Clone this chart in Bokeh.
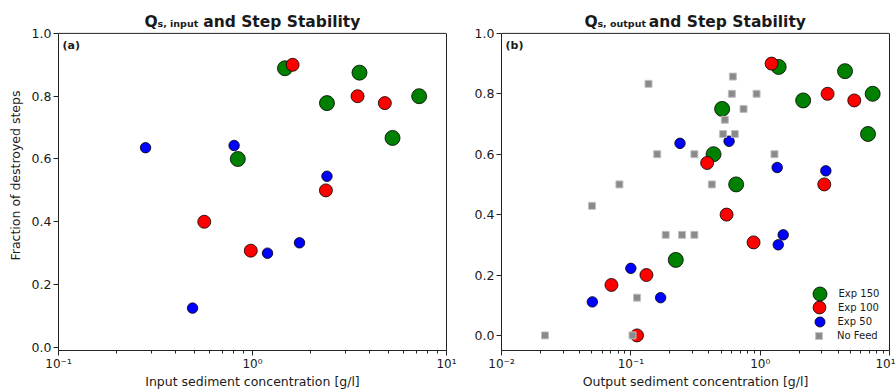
from bokeh.plotting import figure
from bokeh.layouts import row
from bokeh.models import (FixedTicker, PrintfTickFormatter, CustomJSTickFormatter,
                          Label, Legend, LegendItem, LinearAxis, Span)
from bokeh.embed import file_html
from bokeh.resources import INLINE

# ---------------- data ----------------
# panel (a): input sediment concentration [g/l] vs fraction of destroyed steps
in_exp150_x = [0.84, 1.47, 2.42, 3.56, 5.27, 7.23]
in_exp150_y = [0.600, 0.889, 0.778, 0.875, 0.667, 0.800]
in_exp100_x = [0.564, 0.98, 1.61, 2.39, 3.48, 4.81]
in_exp100_y = [0.400, 0.308, 0.900, 0.500, 0.800, 0.778]
in_exp50_x = [0.281, 0.491, 0.804, 1.195, 1.747, 2.42]
in_exp50_y = [0.636, 0.125, 0.643, 0.300, 0.333, 0.545]

# panel (b): output sediment concentration [g/l] vs fraction of destroyed steps
out_exp150_x = [0.2226, 0.436, 0.508, 0.652, 1.39, 2.15, 4.53, 6.82, 7.41]
out_exp150_y = [0.250, 0.600, 0.750, 0.500, 0.889, 0.778, 0.875, 0.667, 0.800]
out_exp100_x = [0.0708, 0.1116, 0.132, 0.389, 0.55, 0.889, 1.225, 3.13, 3.32, 5.34]
out_exp100_y = [0.167, 0.000, 0.200, 0.571, 0.400, 0.308, 0.900, 0.500, 0.800, 0.778]
out_exp50_x = [0.0504, 0.100, 0.170, 0.240, 0.575, 1.354, 1.38, 1.507, 3.22]
out_exp50_y = [0.111, 0.222, 0.125, 0.636, 0.643, 0.556, 0.300, 0.333, 0.545]
nofeed_x = [0.0217, 0.0501, 0.0816, 0.103, 0.1116, 0.137, 0.160, 0.186, 0.249, 0.310,
            0.310, 0.423, 0.517, 0.533, 0.604, 0.615, 0.637, 0.744, 0.938, 1.29]
nofeed_y = [0.000, 0.429, 0.500, 0.000, 0.125, 0.833, 0.600, 0.333, 0.333, 0.600,
            0.333, 0.500, 0.667, 0.714, 0.800, 0.857, 0.667, 0.750, 0.800, 0.600]

y_ticks = [0.0, 0.2, 0.4, 0.6, 0.8, 1.0]
x_ticks_a = [0.1, 1, 10]
x_ticks_b = [0.01, 0.1, 1, 10]
minor_a = [m * 10.0 ** e for e in (-1, 0) for m in range(2, 10)]
minor_b = [m * 10.0 ** e for e in (-2, -1, 0) for m in range(2, 10)]

series_labels = ["Exp 150", "Exp 100", "Exp 50", "No Feed"]
title_a = ("Q", "s, input", "and Step Stability")
title_b = ("Q", "s, output", "and Step Stability")
xlabel_a = "Input sediment concentration [g/l]"
xlabel_b = "Output sediment concentration [g/l]"
ylabel = "Fraction of destroyed steps"

FONT = "DejaVu Sans"
TXT = "#1a1a1a"
LINE = "#222222"

# layout (pixels): axes box spans from BOX_TOP to BOX_BOTTOM; the frame itself
# starts at the canvas top so that the title can be drawn inside it
H = 391
BOX_TOP, BOX_BOTTOM = 33, 351
Y_TOP = 1.0

sup_fmt = CustomJSTickFormatter(code="""
const sup = {"-": "\\u207b", "0": "\\u2070", "1": "\\u00b9", "2": "\\u00b2", "3": "\\u00b3",
             "4": "\\u2074", "5": "\\u2075", "6": "\\u2076", "7": "\\u2077", "8": "\\u2078", "9": "\\u2079"};
const e = Math.round(Math.log10(tick));
return "10" + String(e).split("").map(c => sup[c]).join("");
""")


def make_fig(width, bl, br, xr, y0, xticks, minor, xcenter, title, title_offs, panel, xlabel, ylab):
    # extend the y range above Y_TOP so that the frame reaches the canvas top
    scale = (BOX_BOTTOM - BOX_TOP) / (Y_TOP - y0)
    y1 = y0 + BOX_BOTTOM / scale
    p = figure(width=width, height=H, x_axis_type="log", x_range=xr, y_range=(y0, y1),
               min_border_left=bl, min_border_right=br, min_border_top=0,
               min_border_bottom=H - BOX_BOTTOM,
               toolbar_location=None, output_backend="svg")
    p.title.visible = False
    p.grid.visible = False
    p.outline_line_color = None
    p.background_fill_color = "white"
    p.border_fill_color = "white"

    xa = p.xaxis[0]
    xa.ticker = FixedTicker(ticks=xticks, minor_ticks=minor)
    xa.formatter = sup_fmt
    ya = p.yaxis[0]
    ya.ticker = FixedTicker(ticks=y_ticks)
    ya.formatter = PrintfTickFormatter(format="%.1f")
    ya.bounds = (y0, Y_TOP)
    for ax in (xa, ya):
        ax.axis_line_color = LINE
        ax.major_tick_line_color = LINE
        ax.minor_tick_line_color = LINE
        ax.major_tick_out = 5
        ax.major_tick_in = 0
        ax.minor_tick_out = 3
        ax.minor_tick_in = 0
        ax.major_label_text_font = FONT
        ax.major_label_text_color = TXT
        ax.axis_label_text_font = FONT
        ax.axis_label_text_font_style = "normal"
        ax.axis_label_text_color = TXT
    ya.major_label_text_font_size = "12.5px"
    ya.major_label_standoff = 2
    ya.minor_tick_line_color = None
    xa.major_label_text_font_size = "12px"
    xa.major_label_standoff = 1
    xa.axis_label = xlabel
    xa.axis_label_text_font_size = "12.5px"
    xa.axis_label_standoff = 0
    if ylab:
        ya.axis_label = ylab
        ya.axis_label_text_font_size = "12.5px"
        ya.axis_label_standoff = 6

    # right and top edges of the axes box
    right = LinearAxis(ticker=FixedTicker(ticks=[]), bounds=(y0, Y_TOP), axis_line_color=LINE,
                       major_tick_line_color=None, minor_tick_line_color=None,
                       major_label_text_font_size="0px")
    p.add_layout(right, "right")
    p.add_layout(Span(location=Y_TOP, dimension="width", line_color=LINE, line_width=1))

    # title built from text pieces (main + subscript)
    q, sub, rest = title
    for txt, xo, yo, fs in ((q, title_offs[0], 11.6, "15.5px"), (sub, title_offs[1], 9.6, "9.5px"),
                            (rest, title_offs[2], 11.6, "15.5px")):
        p.add_layout(Label(x=xcenter, y=Y_TOP, x_offset=xo, y_offset=yo, text=txt,
                           text_font=FONT, text_font_size=fs, text_font_style="bold",
                           text_color=TXT, text_align="left", text_baseline="alphabetic"))
    # panel label
    p.add_layout(Label(x=xr[0], y=Y_TOP, x_offset=4, y_offset=-12.4, text=panel,
                       text_font=FONT, text_font_size="11px", text_font_style="bold",
                       text_color=TXT, text_align="left", text_baseline="alphabetic"))
    return p


def add_series(p, xs, ys, marker, size, fill, line, lw=0.8):
    return p.scatter(xs, ys, marker=marker, size=size, fill_color=fill,
                     line_color=line, line_width=lw)


p1 = make_fig(466, 58, 20, (0.1, 10), -0.01, x_ticks_a, minor_a, 1.0,
              title_a, (-108, -95, -49.3), "(a)", xlabel_a, ylabel)
add_series(p1, in_exp150_x, in_exp150_y, "circle", 15, "green", "black")
add_series(p1, in_exp100_x, in_exp100_y, "circle", 13, "red", "black")
add_series(p1, in_exp50_x, in_exp50_y, "circle", 10.5, "blue", "black")

p2 = make_fig(429, 35, 6, (0.01, 10), -0.05, x_ticks_b, minor_b, 0.316,
              title_b, (-111, -98, -46.7), "(b)", xlabel_b, None)
r150 = add_series(p2, out_exp150_x, out_exp150_y, "circle", 15, "green", "black")
r100 = add_series(p2, out_exp100_x, out_exp100_y, "circle", 13, "red", "black")
r50 = add_series(p2, out_exp50_x, out_exp50_y, "circle", 10.5, "blue", "black")
rnf = add_series(p2, nofeed_x, nofeed_y, "square", 7, "#8a8a8a", "#c0c0c0", 1)

# one legend per entry so each marker keeps its own size
legend_specs = [
    (r150, series_labels[0], 35, (300.5, 39.5), 2),
    (r100, series_labels[1], 32, (302, 26.8), 3),
    (r50, series_labels[2], 25, (305.5, 16.2), 6),
    (rnf, series_labels[3], 17, (309, 6.0), 10),
]
for rend, lab, g, loc, so in legend_specs:
    lg = Legend(items=[LegendItem(label=lab, renderers=[rend])], location=loc,
                glyph_width=g, glyph_height=g, label_height=g, label_standoff=so,
                padding=0, margin=0, spacing=0,
                label_text_font=FONT, label_text_font_size="10px", label_text_color=TXT,
                background_fill_alpha=0, border_line_alpha=0)
    p2.add_layout(lg)

layout = row(p1, p2)
open("out.html", "w").write(file_html(layout, INLINE))
